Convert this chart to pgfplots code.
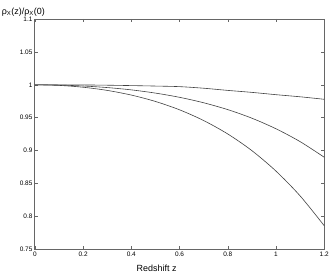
\documentclass[border=0pt]{standalone}
\usepackage{fontspec}
\setmainfont{Liberation Sans}
\usepackage{pgfplots}
\pgfplotsset{compat=1.18}
\begin{document}
\begin{tikzpicture}
\begin{axis}[
  scale only axis, width=290bp, height=231bp,
  xmin=0, xmax=1.2, ymin=0.75, ymax=1.1,
  xtick={0,0.2,0.4,0.6,0.8,1,1.2},
  ytick={0.75,0.8,0.85,0.9,0.95,1,1.05,1.1},
  xticklabels={0,0.2,0.4,0.6,0.8,1,1.2},
  yticklabels={0.75,0.8,0.85,0.9,0.95,1,1.05,1.1},
  tick align=inside, major tick length=3bp,
  ticklabel style={font=\fontsize{6.5}{7}\selectfont},
  xticklabel style={yshift=1bp},
  yticklabel style={xshift=1bp},
  axis line style={draw=black!60, line width=0.9pt},
  every tick/.style={draw=black!60, line width=0.5pt},
  clip=false,
]
\addplot[black!75, line width=0.6pt, smooth] coordinates {
(0,1) (0.1,0.99995) (0.2,0.9998) (0.3,0.9994) (0.4,0.9988) (0.5,0.9981) (0.6,0.9972)
(0.7,0.9948) (0.8,0.9915) (0.9,0.9885) (1.0,0.985) (1.1,0.9818) (1.2,0.978)};
\addplot[black!75, line width=0.6pt, smooth] coordinates {
(0,1) (0.1,0.9996) (0.2,0.9982) (0.3,0.9958) (0.4,0.9923) (0.5,0.9874) (0.6,0.9810)
(0.7,0.9727) (0.8,0.9623) (0.9,0.9493) (1.0,0.9332) (1.1,0.9137) (1.2,0.8900)};
\addplot[black!75, line width=0.6pt, smooth] coordinates {
(0,1) (0.1,0.9991) (0.2,0.9963) (0.3,0.9915) (0.4,0.9844) (0.5,0.9747) (0.6,0.9620)
(0.7,0.9457) (0.8,0.9253) (0.9,0.9000) (1.0,0.8689) (1.1,0.8313) (1.2,0.7860)};
\node[anchor=south, font=\fontsize{9}{10}\selectfont, inner sep=0pt] at (rel axis cs:-0.04,1.01) {ρ\textsubscript{X}(z)/ρ\textsubscript{X}(0)};
\node[font=\fontsize{9}{10}\selectfont, inner sep=0pt] at (rel axis cs:0.4207,-0.08) {Redshift z};
\path (rel axis cs:-0.1207,-0.1126) rectangle (rel axis cs:1.0241,1.0823);
\end{axis}
\end{tikzpicture}
\end{document}
